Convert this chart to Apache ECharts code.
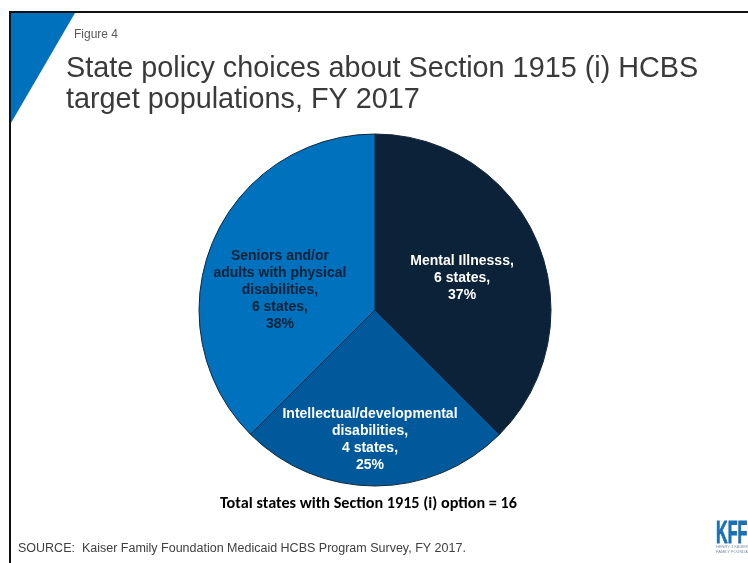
<!DOCTYPE html>
<html>
<head>
<meta charset="utf-8">
<script src="https://cdn.jsdelivr.net/npm/echarts@6/dist/echarts.min.js"></script>
<style>
  html, body { margin: 0; padding: 0; background: #ffffff; }
  #chart { width: 748px; height: 563px; }
</style>
</head>
<body>
<div id="chart"></div>
<script>
// Target population groups, number of states and share of the 16 option states
const categories = [
  'Mental Illnesss',
  'Intellectual/developmental\ndisabilities',
  'Seniors and/or\nadults with physical\ndisabilities'
];
const stateCounts = [6, 4, 6];
const percentages = [37, 25, 38];
const sliceColors = ['#0b2238', '#00599a', '#0071bc'];
const labelColors = ['#ffffff', '#ffffff', '#0b2238'];

// Nudges that move each label from the slice midpoint to its place in the slice
const labelNudge = [[3, 3], [-5, 39], [-11, 15]];

const FONT = '"Liberation Sans", Arial, sans-serif';

const pieData = categories.map((name, i) => ({
  name: name,
  value: stateCounts[i],
  pct: percentages[i],
  itemStyle: { color: sliceColors[i] },
  label: { color: labelColors[i] }
}));

const chart = echarts.init(document.getElementById('chart'), null, { renderer: 'canvas' });

chart.setOption({
  backgroundColor: '#ffffff',
  animation: false,
  graphic: [
    // slide frame: top rule and left rule
    { type: 'rect', shape: { x: 9, y: 11, width: 739, height: 2 }, style: { fill: '#111111' }, silent: true },
    { type: 'rect', shape: { x: 9, y: 11, width: 2, height: 552 }, style: { fill: '#111111' }, silent: true },
    // blue corner triangle
    { type: 'polygon', shape: { points: [[11, 13], [75, 13], [11, 123]] }, style: { fill: '#0071bc' }, silent: true },
    { type: 'text', left: 74, top: 29, style: { text: 'Figure 4', font: '12px ' + FONT, fill: '#595959' } },
    { type: 'text', left: 66, top: 54, style: { text: 'State policy choices about Section 1915 (i) HCBS\ntarget populations, FY 2017', font: '28.8px ' + FONT, fill: '#3a3a3a', lineHeight: 31 } },
    { type: 'text', left: 220, top: 496, style: { text: 'Total states with Section 1915 (i) option = 16', font: 'bold 16.2px Carlito, Lato, ' + FONT, fill: '#000000' } },
    { type: 'text', left: 18, top: 542, style: { text: 'SOURCE:  Kaiser Family Foundation Medicaid HCBS Program Survey, FY 2017.', font: '12.5px ' + FONT, fill: '#404040' } },
    // KFF logo
    { type: 'text', x: 716, y: 519, scaleX: 0.52, style: { text: 'KFF', font: 'bold 31px ' + FONT, fill: '#1b6fb3', stroke: '#1b6fb3', lineWidth: 1 } },
    { type: 'text', x: 716, y: 545, style: { text: 'HENRY J KAISER', font: '4px ' + FONT, fill: '#7a8fa6' } },
    { type: 'text', x: 716, y: 550, style: { text: 'FAMILY FOUNDATION', font: '4px ' + FONT, fill: '#7a8fa6' } }
  ],
  series: [{
    type: 'pie',
    center: [375, 310],
    radius: [0, 176],
    startAngle: 90,
    clockwise: true,
    avoidLabelOverlap: false,
    itemStyle: { borderColor: '#12263a', borderWidth: 1 },
    label: {
      show: true,
      position: 'inside',
      fontFamily: FONT,
      fontWeight: 'bold',
      fontSize: 14,
      lineHeight: 17,
      align: 'center',
      formatter: p => p.name + ',\n' + p.value + ' states,\n' + p.data.pct + '%'
    },
    labelLine: { show: false },
    labelLayout: p => ({ dx: labelNudge[p.dataIndex][0], dy: labelNudge[p.dataIndex][1] }),
    emphasis: { disabled: true },
    data: pieData
  }]
});
</script>
</body>
</html>
